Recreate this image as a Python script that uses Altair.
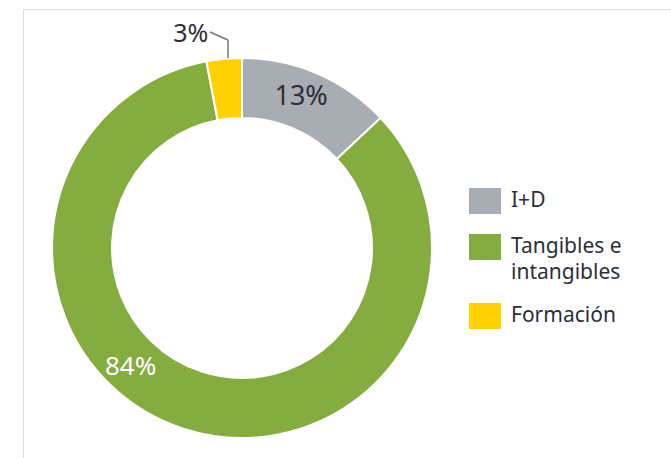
import altair as alt
import pandas as pd

categories = ["I+D", "Tangibles e intangibles", "Formación"]
values = [13, 84, 3]
pct_labels = ["13%", "84%", "3%"]
colors = ["#A7ADB3", "#84AC3F", "#FFD200"]
order = [0, 1, 2]

df = pd.DataFrame({"cat": categories, "value": values, "label": pct_labels, "ord": order})

FONT = "Noto Sans"
TXT = "#2E2E38"
cx, cy = 219, 239

base = alt.Chart(df).encode(
    theta=alt.Theta("value:Q", stack=True),
    order=alt.Order("ord:Q"),
    x=alt.value(cx),
    y=alt.value(cy),
)

arc = base.mark_arc(outerRadius=190, innerRadius=130, stroke="white", strokeWidth=2).encode(
    color=alt.Color(
        "cat:N",
        scale=alt.Scale(domain=categories, range=colors),
        legend=alt.Legend(
            title=None,
            orient="none",
            legendX=449,
            legendY=179,
            symbolType="M-1.23,-1H1.23V1H-1.23Z",
            symbolSize=676,
            symbolStrokeWidth=0,
            symbolOpacity=1,
            labelFontSize=21,
            labelFont=FONT,
            labelColor=TXT,
            labelOffset=13,
            rowPadding=20,
            labelExpr="datum.label == 'Tangibles e intangibles' ? ['Tangibles e', 'intangibles'] : datum.label",
        ),
    )
)

t13 = base.mark_text(radius=162, thetaOffset=-0.035, fontSize=27, font=FONT, color=TXT).encode(
    text=alt.condition("datum.cat == 'I+D'", "label:N", alt.value(""))
)
t84 = base.mark_text(radius=163, thetaOffset=0.438, fontSize=26, font=FONT, color="white").encode(
    text=alt.condition("datum.cat == 'Tangibles e intangibles'", "label:N", alt.value(""))
)
t3 = base.mark_text(radius=220, thetaOffset=-0.141, fontSize=25, font=FONT, color=TXT).encode(
    text=alt.condition("datum.cat == 'Formación'", "label:N", alt.value(""))
)

one = pd.DataFrame({"k": [0]})
lead1 = alt.Chart(one).mark_rule(color="#6E7782", strokeWidth=1.5).encode(
    x=alt.value(187), y=alt.value(23), x2=alt.value(205), y2=alt.value(31)
)
lead2 = alt.Chart(one).mark_rule(color="#6E7782", strokeWidth=1.5).encode(
    x=alt.value(205), y=alt.value(31), y2=alt.value(49)
)

chart = (
    alt.layer(arc, t13, t84, t3, lead1, lead2)
    .properties(
        width=648,
        height=449,
        padding={"left": 23, "top": 9, "right": 0, "bottom": 0},
        autosize=alt.AutoSizeParams(type="none"),
        background="white",
    )
    .configure_view(fill="#EEEFF2", stroke=None)
    .configure(style={"guide-label": {"lineHeight": 26}})
)

chart.save("out.html", embed_options={"renderer": "svg", "actions": False})
